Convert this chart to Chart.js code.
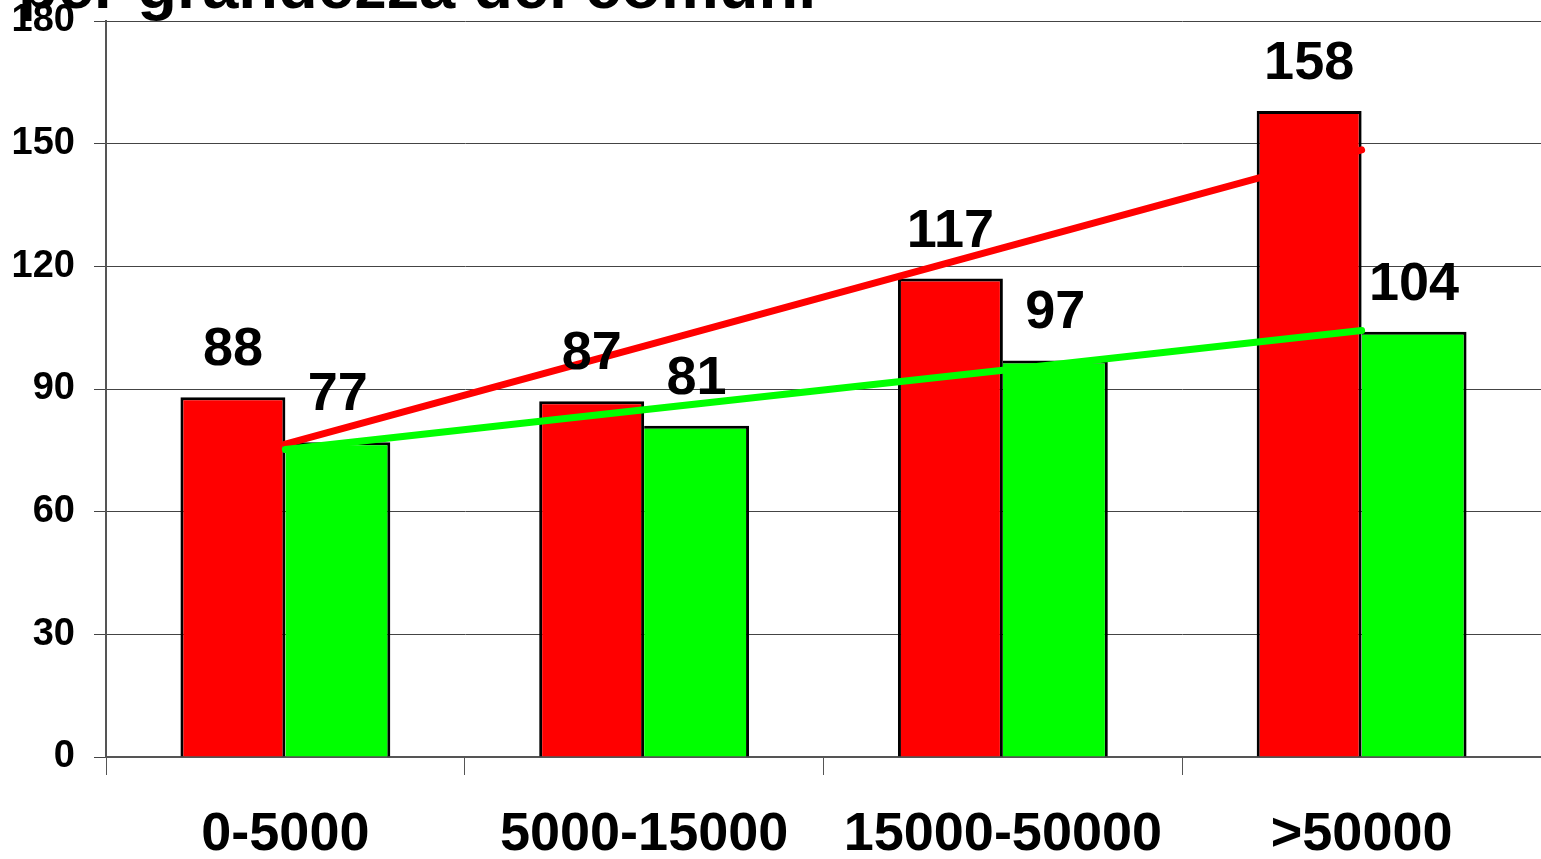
<!DOCTYPE html>
<html>
<head>
<meta charset="utf-8">
<script src="https://cdn.jsdelivr.net/npm/chart.js@4"></script>
<style>
  html, body { margin: 0; padding: 0; background: #fff; overflow: hidden; }
  #wrap { width: 1541px; height: 859px; }
</style>
</head>
<body>
<div id="wrap"><canvas id="chart"></canvas></div>
<script>
// categories + values
const categories = ["0-5000", "5000-15000", "15000-50000", ">50000"];
const redValues = [88, 87, 117, 158];
const greenValues = [77, 81, 97, 104];
// trend lines
const redTrend = [76.5, 100.5, 124.5, 148.5];
const greenTrend = [75.2, 84.9, 94.6, 104.3];
const yTicks = [0, 30, 60, 90, 120, 150, 180];
const titleText = "per grandezza dei comuni";

const FONT = "Arial, 'Liberation Sans', sans-serif";

// title sits half off the top of the canvas, like the original
const titlePlugin = {
    id: "cutTitle",
    afterDraw(chart) {
        const ctx = chart.ctx;
        ctx.save();
        ctx.font = "bold 65px " + FONT;
        ctx.fillStyle = "#000";
        ctx.textAlign = "left";
        ctx.textBaseline = "alphabetic";
        ctx.fillText(titleText, 18, 8);
        ctx.restore();
    }
};

// value labels over each bar
const barLabels = {
    id: "barLabels",
    afterDatasetsDraw(chart) {
        const ctx = chart.ctx;
        ctx.save();
        ctx.font = "bold 54px " + FONT;
        ctx.fillStyle = "#000";
        ctx.textAlign = "center";
        ctx.textBaseline = "alphabetic";
        chart.data.datasets.forEach((ds, i) => {
            if (ds.type !== "bar") return;
            chart.getDatasetMeta(i).data.forEach((bar, j) => {
                ctx.fillText(String(ds.data[j]), bar.x, bar.y - 32);
            });
        });
        ctx.restore();
    }
};

new Chart(document.getElementById("chart"), {
    data: {
        labels: categories,
        datasets: [
            {
                type: "line",
                data: greenTrend,
                borderColor: "#00ff00",
                borderWidth: 7,
                borderCapStyle: "round",
                pointRadius: 0,
                tension: 0,
                order: 0
            },
            {
                type: "line",
                data: redTrend,
                borderColor: "#ff0000",
                borderWidth: 7,
                borderCapStyle: "round",
                pointRadius: 0,
                tension: 0,
                order: 1
            },
            {
                type: "bar",
                data: redValues,
                backgroundColor: "#ff0000",
                borderColor: "#000",
                borderWidth: { top: 3, right: 3, left: 3, bottom: 0 },
                borderSkipped: false,
                categoryPercentage: 0.585,
                barPercentage: 1,
                order: 2
            },
            {
                type: "bar",
                data: greenValues,
                backgroundColor: "#00ff00",
                borderColor: "#000",
                borderWidth: { top: 3, right: 3, left: 0, bottom: 0 },
                borderSkipped: false,
                categoryPercentage: 0.585,
                barPercentage: 1,
                order: 2
            }
        ]
    },
    options: {
        responsive: true,
        maintainAspectRatio: false,
        animation: false,
        layout: { padding: { top: 21, right: 0, left: 0, bottom: 0 } },
        plugins: {
            legend: { display: false },
            tooltip: { enabled: false }
        },
        scales: {
            x: {
                grid: {
                    offset: true,
                    drawOnChartArea: false,
                    tickLength: 18,
                    color: "#555"
                },
                border: { color: "#555", width: 2 },
                ticks: {
                    color: "#000",
                    padding: 28,
                    maxRotation: 0,
                    autoSkip: false,
                    font: { family: FONT, size: 54, weight: "bold", lineHeight: 1.2 }
                },
                afterFit(scale) { scale.height = 102; }
            },
            y: {
                min: 0,
                max: 180,
                afterBuildTicks(scale) { scale.ticks = yTicks.map(v => ({ value: v })); },
                grid: { color: "#444", tickLength: 12 },
                border: { color: "#555", width: 2 },
                ticks: {
                    color: "#000",
                    padding: 19,
                    // tiny lineHeight so the tick padding alone sets the top gap
                    font: { family: FONT, size: 38, weight: "bold", lineHeight: 0.02 }
                },
                afterFit(scale) { scale.width = 106; }
            }
        }
    },
    plugins: [titlePlugin, barLabels]
});
</script>
</body>
</html>
